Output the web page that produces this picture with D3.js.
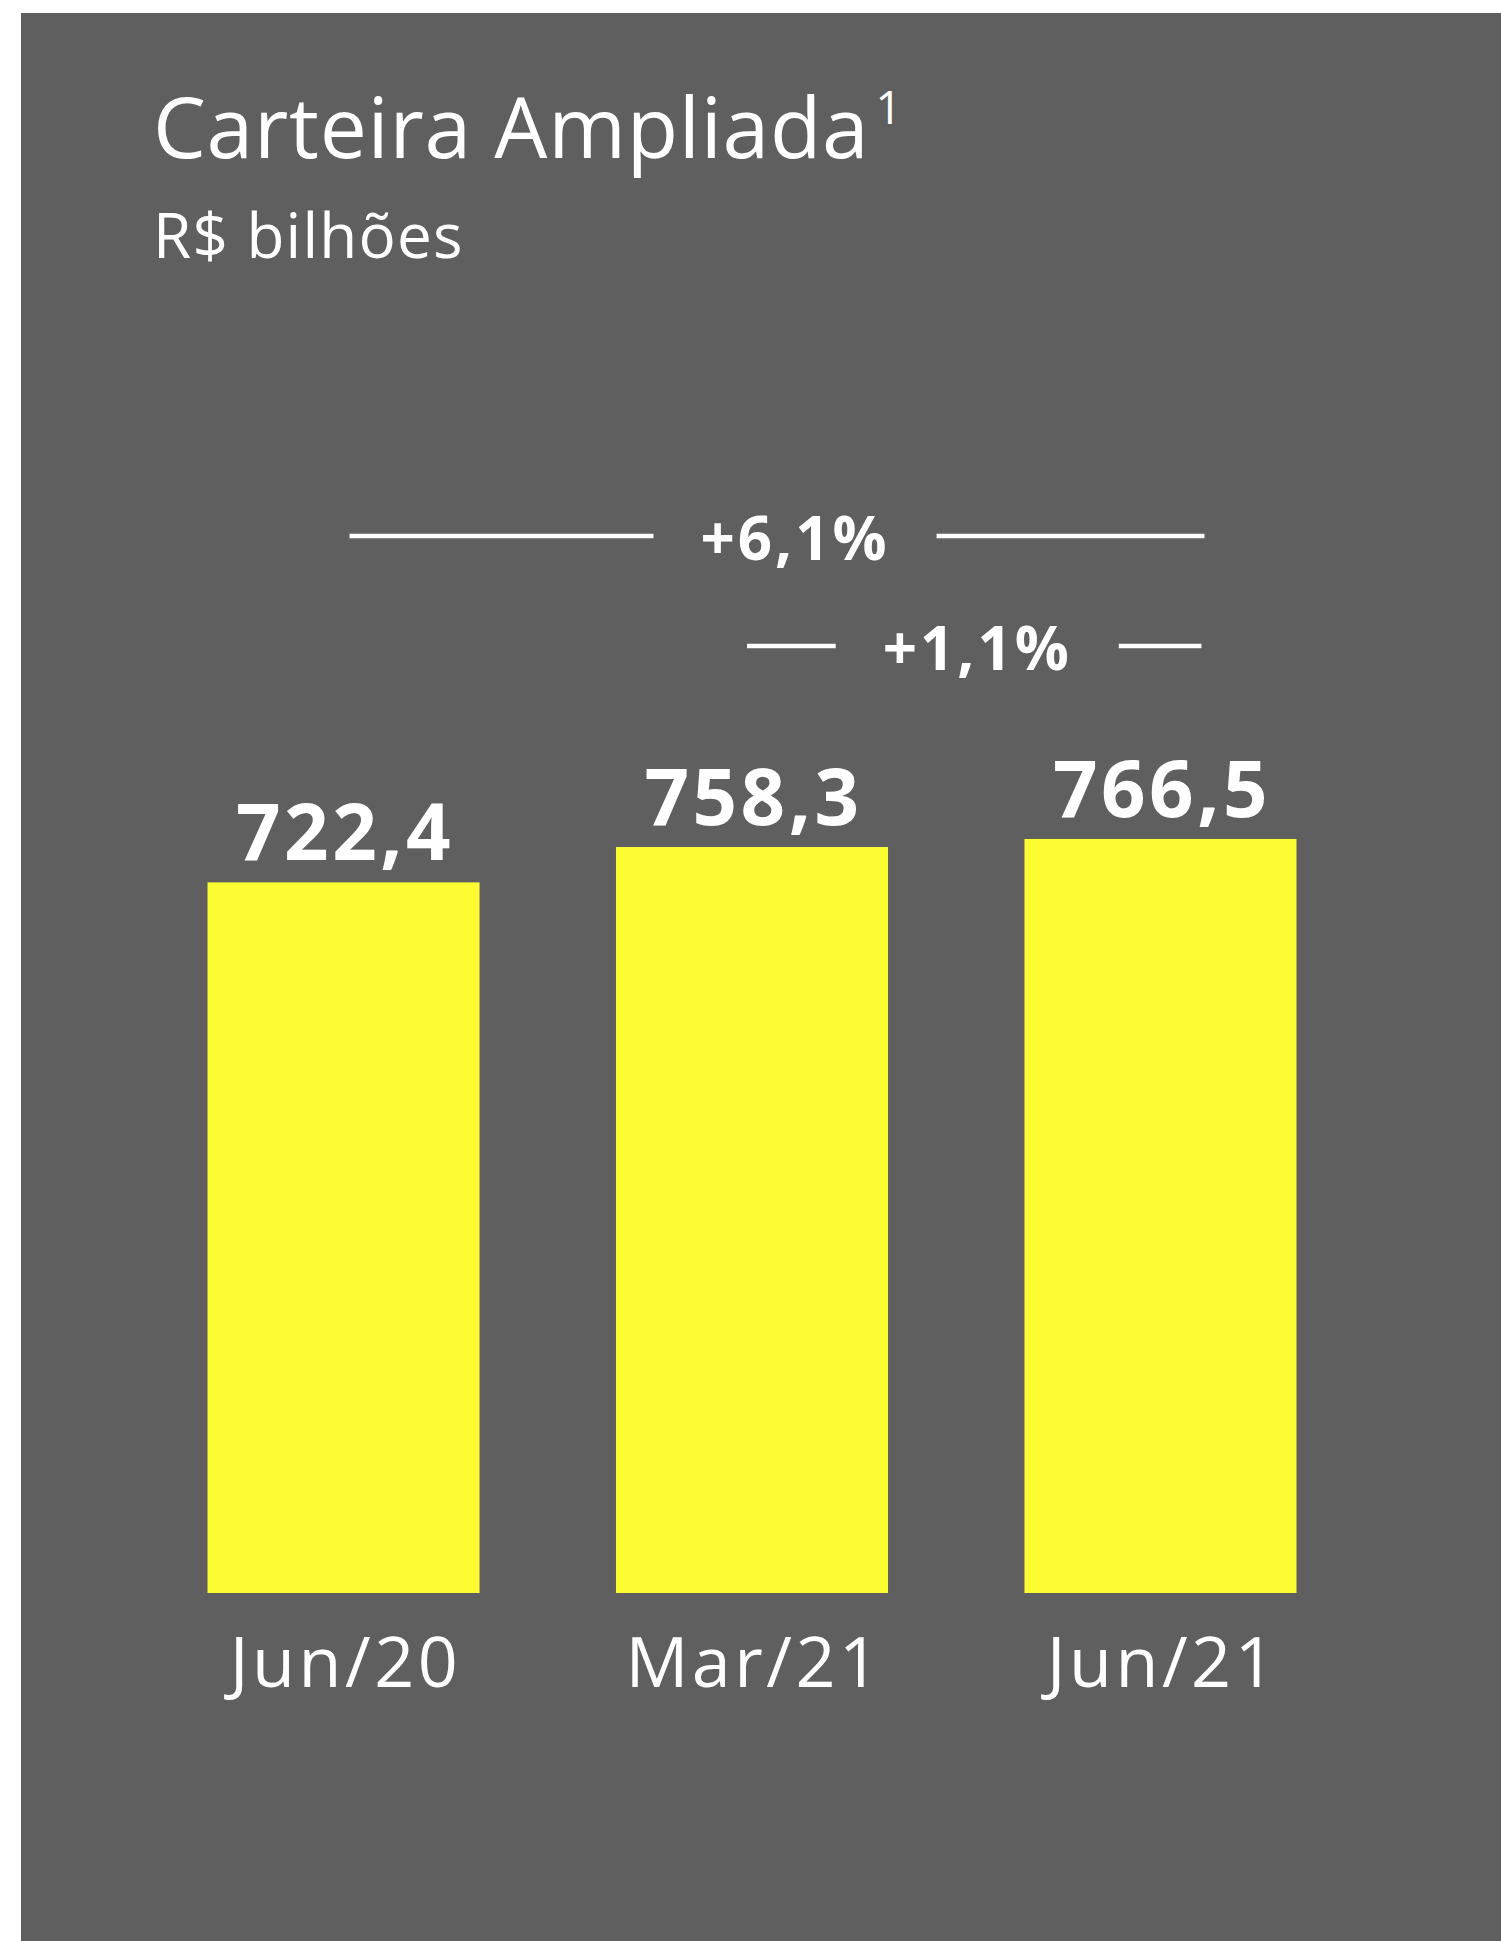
<!DOCTYPE html>
<html>
<head>
<meta charset="utf-8">
<script src="https://cdn.jsdelivr.net/npm/d3@7"></script>
<style>
  body { margin: 0; background: #fff; }
  svg { display: block; }
  text { font-family: 'Open Sans', sans-serif; fill: #fff; }
</style>
</head>
<body>
<svg width="1501" height="1941"></svg>
<script>
// chart data
const categories = ['Jun/20', 'Mar/21', 'Jun/21'];
const values = [722.4, 758.3, 766.5];
const valueLabels = ['722,4', '758,3', '766,5'];
const growthLabels = ['+6,1%', '+1,1%'];
const growthFrom = ['Jun/20', 'Mar/21'];
const growthTo = ['Jun/21', 'Jun/21'];

const title = 'Carteira Ampliada';
const subtitle = 'R$ bilhões';

const svg = d3.select('svg');
const width = +svg.attr('width');
const height = +svg.attr('height');

svg.append('rect')
    .attr('x', 21)
    .attr('y', 13)
    .attr('width', width - 21)
    .attr('height', height - 13)
    .attr('fill', '#5f5f5f');

const titleText = svg.append('text')
    .attr('x', 153)
    .attr('y', 158)
    .attr('font-size', 84)
    .attr('letter-spacing', 0.7)
    .text(title);
titleText.append('tspan')
    .attr('font-size', 46)
    .attr('dx', 6)
    .attr('dy', -34)
    .text('1');

svg.append('text')
    .attr('x', 153)
    .attr('y', 258)
    .attr('font-size', 62)
    .attr('letter-spacing', 1.2)
    .text(subtitle);

const data = categories.map((c, i) => ({ cat: c, value: values[i], label: valueLabels[i] }));

const xScale = d3.scaleBand()
  .domain(categories)
  .range([207.5, 1296.5])
  .paddingInner(0.334)
  .paddingOuter(0);

const yScale = d3.scaleLinear()
  .domain([0, 800])
  .range([1593, 806]);

const bw = xScale.bandwidth();
const cx = c => xScale(c) + bw / 2;

svg.selectAll('.bar').data(data)
  .enter().append('rect')
    .attr('class', 'bar')
    .attr('x', d => xScale(d.cat))
    .attr('y', d => yScale(d.value))
    .attr('width', bw)
    .attr('height', d => yScale(0) - yScale(d.value))
    .attr('fill', '#fcfc33');

svg.selectAll('.value-label').data(data)
  .enter().append('text')
    .attr('class', 'value-label')
    .attr('x', d => cx(d.cat) + 1.5)
    .attr('y', d => yScale(d.value) - 22)
    .attr('text-anchor', 'middle')
    .attr('font-size', 78)
    .attr('font-weight', 700)
    .attr('letter-spacing', 3.5)
    .text(d => d.label);

svg.selectAll('.cat-label').data(categories)
  .enter().append('text')
    .attr('class', 'cat-label')
    .attr('x', d => cx(d) + 2)
    .attr('y', 1687)
    .attr('text-anchor', 'middle')
    .attr('font-size', 70)
    .attr('letter-spacing', 3.5)
    .text(d => d);

// growth brackets
const growthY = [536, 646];
const startOff = [6, -5];
const endOff = [44, 41];
const textShift = [18, 3];
growthLabels.forEach((lab, i) => {
  const sx = cx(growthFrom[i]) + startOff[i];
  const ex = cx(growthTo[i]) + endOff[i];
  const mid = (sx + ex) / 2 + textShift[i];
  const t = svg.append('text')
      .attr('x', mid)
      .attr('y', growthY[i] + 24)
      .attr('text-anchor', 'middle')
      .attr('font-size', 60)
      .attr('font-weight', 700)
      .attr('letter-spacing', 3)
      .text(lab);
  const tw = t.node().getComputedTextLength();
  const gap = 47;
  [[sx, mid - tw / 2 - gap], [mid + tw / 2 + gap, ex]].forEach(([a, b]) => {
    svg.append('line')
        .attr('x1', a).attr('x2', b)
        .attr('y1', growthY[i]).attr('y2', growthY[i])
        .attr('stroke', '#fff')
        .attr('stroke-width', 4.5);
  });
});
</script>
</body>
</html>
